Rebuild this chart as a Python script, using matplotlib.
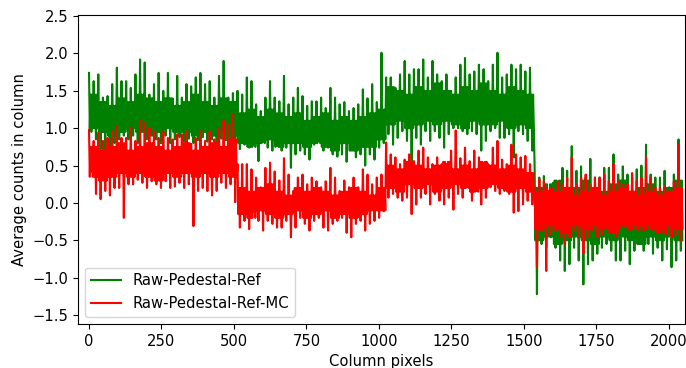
import numpy as np
import matplotlib
matplotlib.use("Agg")
import matplotlib.pyplot as plt

# values: per 16-column bin, upper and lower excursion
green_hi = [1.74, 1.63, 1.72, 1.41, 1.43, 1.59, 1.81, 1.63, 1.63, 1.54, 1.72, 1.92, 1.88, 1.45, 1.59, 1.74, 1.50, 1.74,
            1.40, 1.70, 1.41, 1.59, 1.56, 1.68, 1.74, 1.59, 1.63, 1.41, 1.70, 1.90, 1.41, 1.47, 1.50, 1.45, 1.68, 1.63,
            1.32, 1.23, 1.41, 1.63, 1.41, 1.36, 1.70, 1.32, 1.41, 1.54, 1.43, 1.30, 1.36, 1.36, 1.41, 1.27, 1.54, 1.41, 1.32,
            1.35, 1.23, 1.27, 1.32, 1.52, 1.40, 1.59, 1.35, 2.01, 1.68, 1.68, 1.54, 1.72, 1.90, 1.72, 1.79, 1.79, 1.92, 1.68,
            1.90, 1.72, 1.63, 1.72, 1.50, 1.68, 1.85, 1.94, 1.72, 1.76, 1.85, 1.79, 1.63, 1.85, 2.01, 1.68, 1.72, 1.85,
            1.79, 1.85, 1.76, 1.81, 0.47, 0.34, 0.36, 0.16, 0.27, 0.25, 0.47, 0.43, 0.76, 0.43, 0.49, 0.34, 0.59, 0.34, 0.34,
            0.47, 0.47, 0.65, 0.38, 0.49, 0.38, 0.34, 0.45, 0.50, 0.78, 0.38, 0.34, 0.34, 0.43, 0.21, 0.38, 0.85]
green_lo = [0.95, 0.85, 0.72, 0.62, 0.65, 0.80, 0.85, 0.90, 0.85, 0.90, 0.80, 0.95, 0.85, 0.90, 0.85, 0.80, 0.90, 0.80,
            0.85, 0.88, 0.82, 0.86, 0.80, 0.84, 0.88, 0.82, 0.85, 0.80, 0.86, 0.84, 0.82, 0.74, 0.72, 0.78, 0.74, 0.78,
            0.56, 0.83, 0.74, 0.70, 0.83, 0.70, 0.74, 0.47, 0.65, 0.70, 0.65, 0.58, 0.78, 0.83, 0.70, 0.74, 0.65, 0.62, 0.65,
            0.55, 0.70, 0.61, 0.65, 0.50, 0.65, 0.58, 0.74, 0.80, 0.92, 0.78, 0.87, 0.96, 0.83, 0.56, 0.87, 0.78, 0.96, 0.83,
            0.96, 0.87, 0.74, 0.92, 1.00, 1.00, 0.96, 0.92, 0.96, 0.92, 0.70, 0.83, 0.96, 1.00, 0.87, 0.87, 0.92, 0.61,
            0.96, 0.92, 0.83, 0.70, -1.22, -0.55, -0.60, -0.46, -0.60, -0.77, -0.91, -0.82, -0.60, -0.77, -1.09, -0.82, -0.77, -0.68, -0.60,
            -0.55, -0.64, -0.77, -0.77, -0.64, -0.82, -0.64, -0.55, -0.64, -0.55, -0.68, -0.60, -0.77, -0.62, -0.86, -0.77, -0.64]
red_hi = [0.98, 0.83, 0.94, 0.83, 0.87, 0.96, 1.03, 0.87, 0.87, 1.01, 0.83, 1.10, 1.07, 1.01, 0.96, 0.87, 0.96, 0.87,
          0.85, 0.92, 0.92, 0.96, 0.79, 0.87, 0.96, 0.83, 0.96, 0.85, 1.00, 1.10, 1.05, 1.19, 0.52, 0.52, 0.52, 0.45,
          0.34, 0.21, 0.47, 0.54, 0.42, 0.30, 0.60, 0.38, 0.16, 0.34, 0.38, 0.25, 0.34, 0.29, 0.21, 0.29, 0.47, 0.34, 0.16,
          0.30, 0.21, 0.34, 0.21, 0.45, 0.38, 0.25, 0.34, 0.38, 0.81, 0.65, 0.61, 0.52, 0.58, 0.65, 0.56, 0.70, 0.74, 0.61,
          0.52, 0.61, 0.52, 0.52, 0.70, 0.97, 0.60, 0.74, 0.56, 0.70, 0.61, 0.54, 0.52, 0.74, 0.83, 0.58, 0.52, 0.78,
          0.65, 0.61, 0.63, 0.52, 0.16, 0.32, 0.29, 0.16, 0.07, 0.29, 0.25, 0.34, 0.61, 0.25, 0.34, 0.38, 0.25, 0.34, 0.34,
          0.38, 0.29, 0.52, 0.29, 0.25, 0.25, 0.40, 0.29, 0.34, 0.61, 0.34, 0.21, 0.21, 0.21, 0.16, 0.29, 0.78]
red_lo = [0.42, 0.12, 0.05, 0.16, 0.10, 0.20, 0.20, -0.20, 0.25, 0.25, 0.31, 0.27, 0.20, 0.29, 0.25, 0.20, 0.29, 0.20,
          0.22, 0.27, 0.20, 0.25, -0.31, 0.16, 0.20, 0.16, 0.10, 0.16, 0.27, 0.20, 0.25, 0.01, -0.33, -0.24, -0.35, -0.12,
          -0.24, -0.37, -0.24, -0.28, -0.33, -0.33, -0.24, -0.46, -0.33, -0.20, -0.28, -0.37, -0.24, -0.20, -0.33, -0.37, -0.28, -0.24, -0.20,
          -0.40, -0.46, -0.28, -0.24, -0.37, -0.28, -0.24, -0.20, -0.11, 0.07, 0.12, 0.07, 0.03, 0.07, -0.15, -0.02, 0.07, 0.12, -0.02,
          0.12, 0.03, -0.02, 0.07, -0.09, 0.12, 0.07, 0.21, 0.03, 0.16, -0.02, 0.07, 0.21, 0.16, 0.12, 0.16, 0.12, -0.13,
          -0.11, -0.02, 0.03, -0.02, -0.86, -0.37, -0.91, -0.42, -0.37, -0.46, -0.55, -0.46, -0.37, -0.46, -0.68, -0.46, -0.37, -0.46, -0.42,
          -0.33, -0.37, -0.46, -0.33, -0.33, -0.37, -0.28, -0.37, -0.37, -0.28, -0.37, -0.37, -0.33, -0.42, -0.46, -0.42, -0.51]

# dense inner band of each trace, per 32-column segment
green_core_hi = [1.45, 1.35, 1.30, 1.40, 1.35, 1.45, 1.40, 1.35, 1.40, 1.30, 1.35, 1.45, 1.35, 1.30, 1.40, 1.35,
                 1.20, 1.25, 1.15, 1.25, 1.20, 1.15, 1.20, 1.10, 1.15, 1.20, 1.10, 1.15, 1.10, 1.15, 1.20, 1.25,
                 1.55, 1.50, 1.45, 1.55, 1.50, 1.60, 1.50, 1.45, 1.55, 1.50, 1.60, 1.50, 1.45, 1.55, 1.50, 1.45,
                 0.20, 0.25, 0.30, 0.15, 0.20, 0.30, 0.20, 0.15, 0.25, 0.30, 0.15, 0.20, 0.25, 0.15, 0.20, 0.30]
green_core_lo = [1.00, 0.95, 0.90, 0.95, 1.00, 0.95, 0.90, 0.95, 1.00, 0.95, 0.95, 0.90, 0.95, 0.90, 0.95, 0.90,
                 0.80, 0.75, 0.80, 0.85, 0.75, 0.80, 0.80, 0.75, 0.80, 0.75, 0.70, 0.80, 0.70, 0.75, 0.75, 0.85,
                 1.05, 1.10, 1.00, 1.05, 1.10, 1.05, 1.10, 1.05, 1.00, 1.10, 1.05, 1.05, 1.10, 1.00, 1.05, 1.00,
                 -0.50, -0.45, -0.55, -0.50, -0.45, -0.50, -0.55, -0.45, -0.50, -0.45, -0.50, -0.55, -0.45, -0.50, -0.45, -0.50]
red_core_hi = [0.75, 0.70, 0.75, 0.80, 0.70, 0.75, 0.80, 0.75, 0.70, 0.75, 0.80, 0.70, 0.75, 0.80, 0.75, 0.85,
               0.20, 0.15, 0.20, 0.25, 0.15, 0.10, 0.20, 0.15, 0.20, 0.15, 0.10, 0.15, 0.20, 0.15, 0.10, 0.20,
               0.50, 0.45, 0.55, 0.50, 0.45, 0.50, 0.55, 0.45, 0.50, 0.45, 0.55, 0.50, 0.45, 0.50, 0.45, 0.40,
               0.15, 0.20, 0.15, 0.20, 0.10, 0.15, 0.20, 0.10, 0.15, 0.20, 0.15, 0.10, 0.15, 0.10, 0.15, 0.20]
red_core_lo = [0.35, 0.30, 0.35, 0.40, 0.35, 0.40, 0.35, 0.30, 0.40, 0.35, 0.40, 0.35, 0.40, 0.35, 0.40, 0.35,
               -0.15, -0.20, -0.10, -0.15, -0.20, -0.15, -0.10, -0.20, -0.15, -0.10, -0.20, -0.15, -0.20, -0.15, -0.10, -0.10,
               0.20, 0.15, 0.25, 0.20, 0.25, 0.15, 0.20, 0.25, 0.20, 0.15, 0.20, 0.25, 0.20, 0.15, 0.20, 0.15,
               -0.35, -0.30, -0.35, -0.40, -0.30, -0.35, -0.30, -0.35, -0.40, -0.30, -0.35, -0.30, -0.35, -0.40, -0.30, -0.35]


def trace(hi, lo, core_hi, core_lo):
    # each bin: up-spike, inner band, down-spike, inner band
    vals = []
    for k in range(len(hi)):
        ch, cl = core_hi[k // 2], core_lo[k // 2]
        vals += [hi[k], cl, ch, lo[k], ch, cl]
    return np.array(vals)


green = trace(green_hi, green_lo, green_core_hi, green_core_lo)
red = trace(red_hi, red_lo, red_core_hi, red_core_lo)
cols = np.linspace(0, 2047, len(green))

plt.rcParams["font.size"] = 10.6

fig = plt.figure(figsize=(6.86, 3.68), dpi=100)
ax = fig.add_axes([78 / 686, 44 / 368, 607 / 686, 309 / 368])
ax.plot(cols, green, color="green", lw=1.5, label="Raw-Pedestal-Ref")
ax.plot(cols, red, color="red", lw=1.5, label="Raw-Pedestal-Ref-MC")
ax.set_xlim(-38, 2056)
ax.set_ylim(-1.62, 2.515)
ax.set_xticks([0, 250, 500, 750, 1000, 1250, 1500, 1750, 2000])
ax.set_yticks([-1.5, -1.0, -0.5, 0.0, 0.5, 1.0, 1.5, 2.0, 2.5])
ax.set_xlabel("Column pixels")
ax.set_ylabel("Average counts in column")
ax.legend(loc="lower left")
fig.savefig("out.png", dpi=100)
